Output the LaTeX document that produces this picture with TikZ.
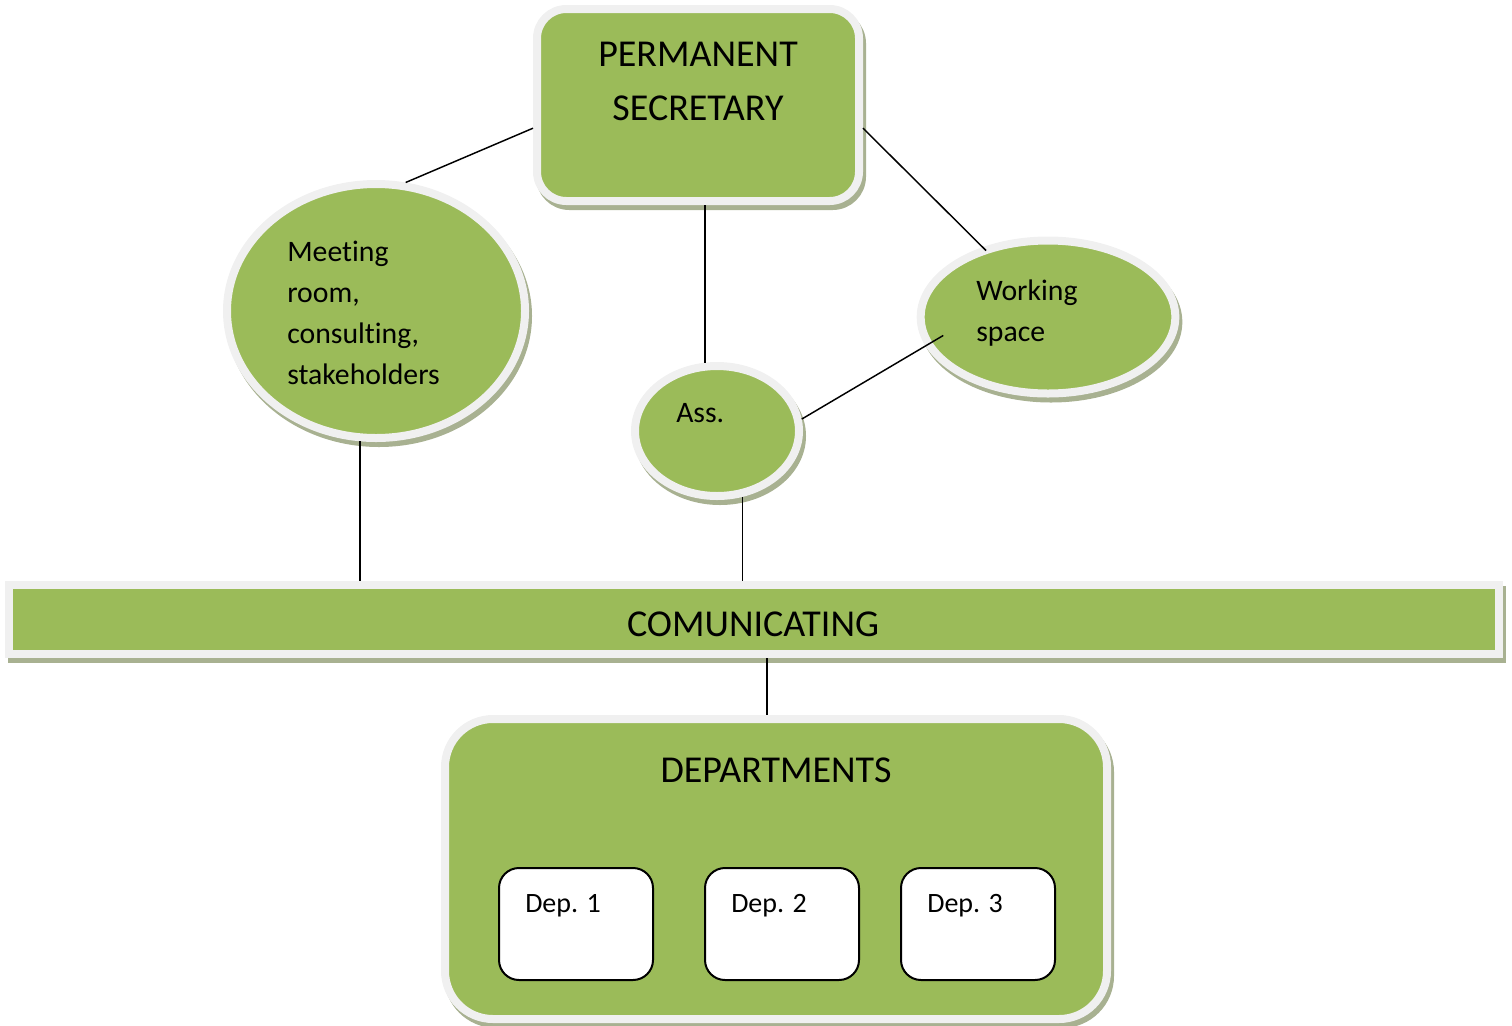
\documentclass[tikz,border=0pt]{standalone}
\usepackage{fontspec}
\setmainfont{Carlito}[Ligatures=CommonOff]
\usetikzlibrary{calc,shapes.geometric}
\definecolor{leaf}{HTML}{9BBB59}
\definecolor{rim}{HTML}{F0F0F0}
\definecolor{shade}{HTML}{A8B191}
\newcommand{\bigtxt}{\fontsize{28.5}{40}\selectfont}
\newcommand{\midtxt}{\fontsize{22.3}{30.75}\selectfont}
\newcommand{\smalltxt}{\fontsize{21}{30.75}\selectfont}
\tikzset{
  panel/.style={fill=leaf, draw=rim, line width=6pt, inner sep=0pt,
    preaction={draw=shade, fill=shade, line width=6pt,
      transform canvas={shift={(2.25pt,-3.75pt)}}}},
  oval/.style={panel, ellipse},
  depbox/.style={draw=black, fill=white, line width=1.5pt, rounded corners=15pt,
    minimum width=115.5pt, minimum height=84pt, inner sep=0pt},
  caption/.style={inner sep=0pt, text=black},
  link/.style={draw=black, line width=1.1pt}
}
\begin{document}
\begin{tikzpicture}[x=0.75pt, y=-0.75pt]
\useasboundingbox (0,0) rectangle (1512,1025);

% main shapes
\node[panel, rounded corners=22pt, minimum width=241.5pt, minimum height=144pt] (ps) at (698,105) {};
\node[oval, minimum width=223.5pt, minimum height=190.5pt] (meet) at (376,311) {};
\node[oval, minimum width=123pt, minimum height=97.5pt] (ass) at (717,431) {};
\node[oval, minimum width=191pt, minimum height=114.75pt] (work) at (1048,317) {};
\node[panel, minimum width=1117.5pt, minimum height=51.75pt] (bar) at (754,619.5) {};
\node[panel, rounded corners=36pt, minimum width=496.5pt, minimum height=225pt] (dept) at (776,869) {};

% department boxes
\node[depbox] (d1) at (576,924) {};
\node[depbox] (d2) at (782,924) {};
\node[depbox] (d3) at (978,924) {};

% captions (base of a multi-line caption is its last line)
\node[caption, anchor=base, align=center, font=\bigtxt] (pst) at (698,120) {PERMANENT\\SECRETARY};
\node[caption, anchor=base west, align=left, font=\midtxt] (meett) at (287,384) {Meeting\\room,\\consulting,\\stakeholders};
\node[caption, anchor=base west, font=\midtxt] (asst) at (676,422) {Ass.};
\node[caption, anchor=base west, align=left, font=\midtxt] (workt) at (976,341) {Working\\space};
\node[caption, anchor=base, font=\bigtxt] (bart) at (753,636) {COMUNICATING};
\node[caption, anchor=base, font=\bigtxt] (deptt) at (776,782) {DEPARTMENTS};
\node[caption, anchor=base west, font=\smalltxt] (d1t) at (525,912) {Dep. 1};
\node[caption, anchor=base west, font=\smalltxt] (d2t) at (731,912) {Dep. 2};
\node[caption, anchor=base west, font=\smalltxt] (d3t) at (927,912) {Dep. 3};

% connectors
\coordinate (barjoin) at ($(bar.south)+(13,0)$);
\coordinate (workin) at ($(work.center)!0.83!(work.190)$);
\coordinate (worktop) at ($(work.center)!0.95!(work.133)$);
\draw[link] (ps.188) -- (meet.77);
\draw[link] (ps.352) -- (worktop);
\draw[link] (ps.south -| ass.100) -- (ass.100);
\draw[link] (workin) -- (ass.8);
\draw[link] (meet.263) -- (meet.263 |- bar.north);
\draw[link] (ass.291) -- (ass.291 |- bar.north);
\draw[link] (barjoin) -- (barjoin |- dept.north);
\end{tikzpicture}
\end{document}
